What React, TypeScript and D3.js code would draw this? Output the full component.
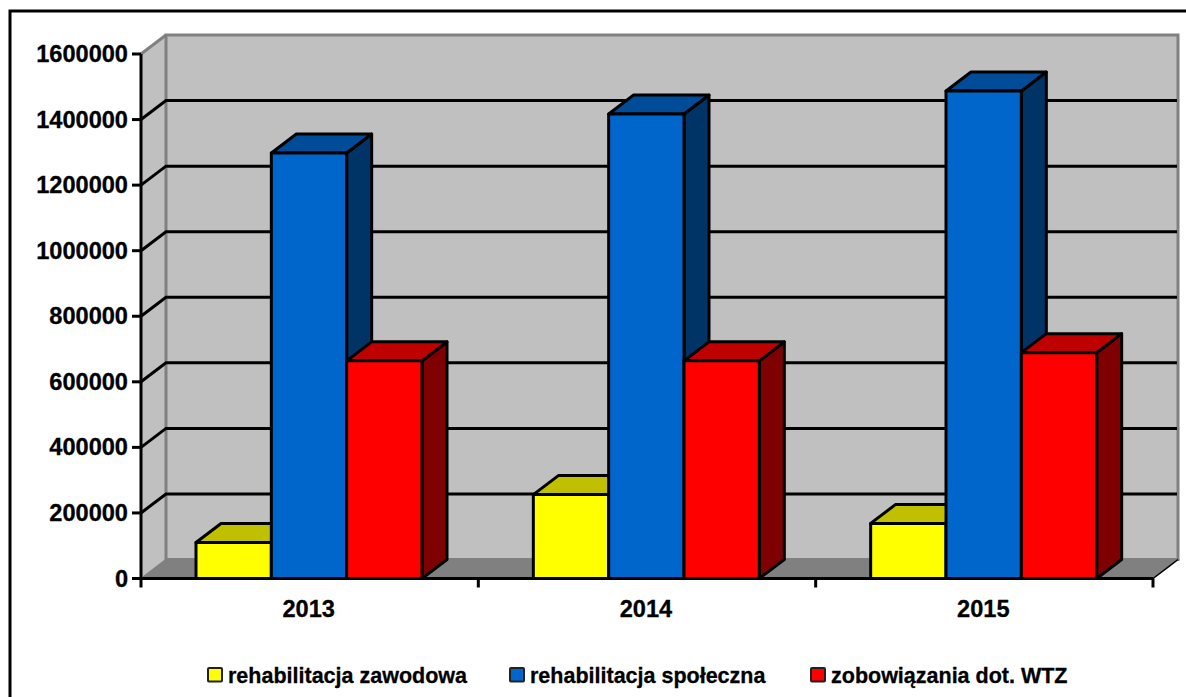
import React from "react";
import * as d3 from "d3";

const years = ["2013", "2014", "2015"];
const seriesNames = ["rehabilitacja zawodowa", "rehabilitacja społeczna", "zobowiązania dot. WTZ"];
const zawodowa = [110000, 256000, 168000];
const spoleczna = [1298000, 1417000, 1487000];
const wtz = [664000, 664000, 689000];
const yTicks = [0, 200000, 400000, 600000, 800000, 1000000, 1200000, 1400000, 1600000];
const fronts = ["#ffff00", "#0066cc", "#ff0000"];
const tops = ["#c0c000", "#004c99", "#bf0000"];
const sides = ["#7f7f00", "#003366", "#7f0000"];
const legendX = [208, 510, 811];

const FONT = "'Liberation Sans', Arial, sans-serif";
const DX = 25;
const DY = -19;
const SW = 3;

export default function App() {
  const y = d3.scaleLinear().domain([0, 1600000]).range([578.5, 54]);
  const x0 = d3.scaleBand<string>().domain(years).range([141, 1153]);
  const x1 = d3.scaleBand<number>().domain([0, 1, 2]).range([55, 281]);
  const values = [zawodowa, spoleczna, wtz];
  const y0 = y(0);
  const yTop = y(1600000);
  const xL = 141;
  const xR = 1153;
  const pts = (a: number[][]) => a.map((p) => p.join(",")).join(" ");

  return (
    <svg width={1186} height={697} style={{ position: "absolute", left: 0, top: 0, display: "block" }} fontFamily={FONT}>
      <rect x={0} y={0} width={1186} height={697} fill="#fff" />
      <rect x={10} y={11} width={1300} height={800} fill="none" stroke="#000" strokeWidth={3} />

      {/* walls and floor */}
      <polygon points={pts([[xL, yTop], [xL + DX, yTop + DY], [xL + DX, y0 + DY], [xL, y0]])} fill="#c0c0c0" />
      <rect x={xL + DX} y={yTop + DY} width={xR - xL} height={y0 - yTop} fill="#c0c0c0" stroke="#808080" strokeWidth={SW} />
      <line x1={xL} y1={yTop} x2={xL + DX} y2={yTop + DY} stroke="#808080" strokeWidth={SW} />
      <polygon points={pts([[xL, y0], [xL + DX, y0 + DY], [xR + DX, y0 + DY], [xR, y0]])} fill="#808080" stroke="#808080" strokeWidth={1.5} />

      {/* gridlines */}
      {yTicks.slice(1, -1).map((t) => (
        <polyline key={t} points={pts([[xL, y(t)], [xL + DX, y(t) + DY], [xR + DX - 1, y(t) + DY]])} fill="none" stroke="#000" strokeWidth={SW} />
      ))}

      {/* bars */}
      {years.map((yr, i) =>
        values.map((vals, s) => {
          const xa = x0(yr)! + x1(s)!;
          const w = x1.bandwidth();
          const yv = y(vals[i]);
          return (
            <g key={yr + s} stroke="#000" strokeWidth={SW} strokeLinejoin="round">
              <polygon points={pts([[xa + w, yv], [xa + w + DX, yv + DY], [xa + w + DX, y0 + DY], [xa + w, y0]])} fill={sides[s]} />
              <polygon points={pts([[xa, yv], [xa + DX, yv + DY], [xa + w + DX, yv + DY], [xa + w, yv]])} fill={tops[s]} />
              <rect x={xa} y={yv} width={w} height={y0 - yv} fill={fronts[s]} />
            </g>
          );
        })
      )}

      {/* axes */}
      <line x1={xL} y1={yTop} x2={xL} y2={y0} stroke="#000" strokeWidth={SW} />
      <line x1={xL - 9} y1={y0} x2={xR} y2={y0} stroke="#000" strokeWidth={SW} />
      <line x1={xR} y1={y0} x2={xR + DX} y2={y0 + DY} stroke="#000" strokeWidth={1.5} />
      {yTicks.map((t) => (
        <g key={t}>
          <line x1={xL - 9} y1={y(t)} x2={xL} y2={y(t)} stroke="#000" strokeWidth={SW} />
          <text x={128} y={y(t) + 8} textAnchor="end" fontSize={23.6} fontWeight={700} fill="#000" stroke="#000" strokeWidth={0.3}>{t}</text>
        </g>
      ))}
      {[...years.map((yr) => x0(yr)!), xR].map((tx) => (
        <line key={tx} x1={tx} y1={y0} x2={tx} y2={y0 + 9} stroke="#000" strokeWidth={SW} />
      ))}
      {years.map((yr) => (
        <text key={yr} x={x0(yr)! + x0.bandwidth() / 2 - 1} y={617} textAnchor="middle" fontSize={23.6} fontWeight={700} fill="#000" stroke="#000" strokeWidth={0.3}>{yr}</text>
      ))}

      {/* legend */}
      {seriesNames.map((n, s) => (
        <g key={n}>
          <rect x={legendX[s]} y={668} width={14} height={13.5} fill={fronts[s]} stroke="#222" strokeWidth={2} rx={1} />
          <text x={legendX[s] + 20} y={683} fontSize={21.5} fontWeight={700} fill="#000" stroke="#000" strokeWidth={0.3}>{n}</text>
        </g>
      ))}
    </svg>
  );
}
